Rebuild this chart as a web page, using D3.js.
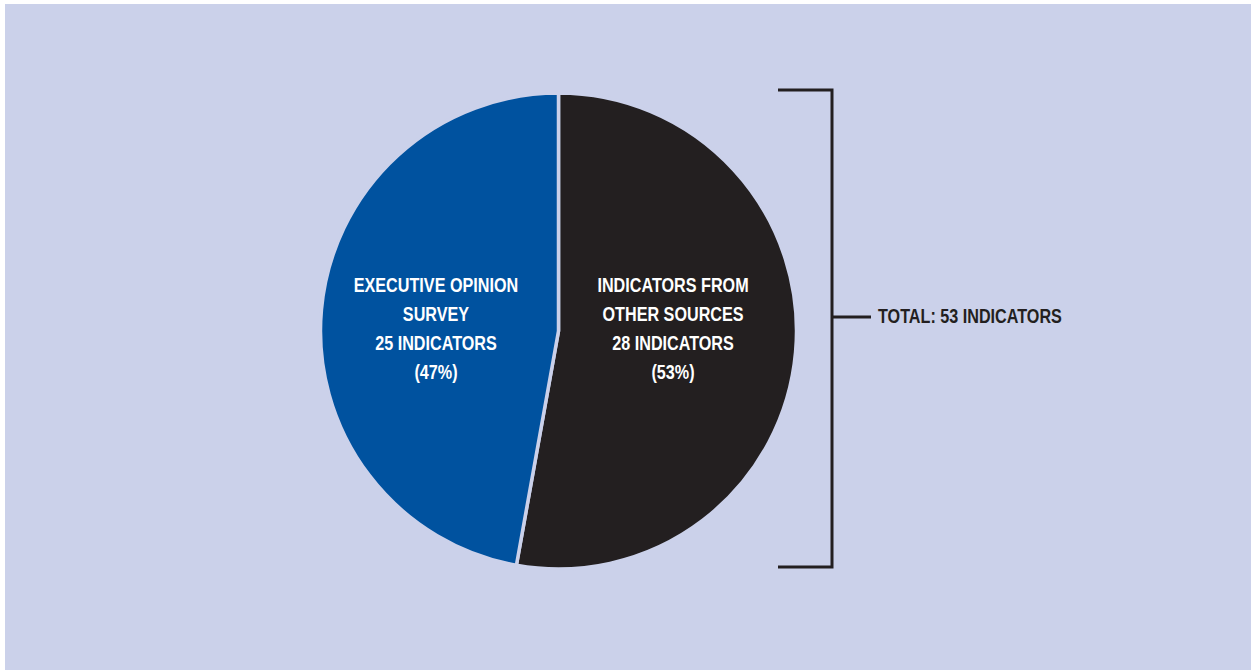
<!DOCTYPE html>
<html>
<head>
<meta charset="utf-8">
<script src="https://cdn.jsdelivr.net/npm/d3@7"></script>
<style>
  html, body { margin: 0; padding: 0; background: #ffffff; }
  svg { display: block; }
  text { font-family: "Liberation Sans Narrow", "Arial Narrow", "Liberation Sans", sans-serif; font-weight: bold; }
</style>
</head>
<body>
<svg id="chart" width="1251" height="670"></svg>
<script>
// Indicator sources
const categories = ["INDICATORS FROM OTHER SOURCES", "EXECUTIVE OPINION SURVEY"];
const counts = [28, 25];
const shares = ["(53%)", "(47%)"];
const labelLines = [
  ["INDICATORS FROM", "OTHER SOURCES", "28 INDICATORS", "(53%)"],
  ["EXECUTIVE OPINION", "SURVEY", "25 INDICATORS", "(47%)"]
];
const totalLabel = "TOTAL: 53 INDICATORS";
const colors = ["#231f20", "#00529f"];

const W = 1251, H = 670;
const bg = "#cbd1ea";
const condense = 0.77; // horizontal squeeze to get a condensed face
const svg = d3.select("#chart");

// squeeze a text element horizontally, keeping its anchor
function condensed(sel) {
  sel.each(function() {
    const len = this.getComputedTextLength();
    d3.select(this).attr("textLength", len * condense).attr("lengthAdjust", "spacingAndGlyphs");
  });
}

// panel background with thin white margin on the top and left edges
svg.append("rect").attr("x", 5).attr("y", 4).attr("width", W - 5).attr("height", H - 4).attr("fill", bg);

const cx = 558.5, cy = 331, r = 238;
const g = svg.append("g").attr("transform", `translate(${cx},${cy})`);

const pie = d3.pie().sort(null).value(d => d.count);
const data = categories.map((c, i) => ({ name: c, count: counts[i], lines: labelLines[i], color: colors[i] }));
const arcs = pie(data);
const arc = d3.arc().innerRadius(0).outerRadius(r);
const labelArc = d3.arc().innerRadius(0).outerRadius(r);

g.selectAll("path.slice")
  .data(arcs)
  .join("path")
  .attr("class", "slice")
  .attr("d", arc)
  .attr("fill", d => d.data.color)
  .attr("stroke", bg)
  .attr("stroke-width", 3.5)
  .attr("stroke-linejoin", "round");

// slice labels, stacked lines centred on each slice
const lineOffsets = [-39, -10, 19, 48];
const labels = g.selectAll("g.label")
  .data(arcs)
  .join("g")
  .attr("class", "label")
  .attr("transform", d => {
    const [x] = labelArc.centroid(d);
    return `translate(${x - 4},0)`;
  });

labels.each(function(d) {
  const sel = d3.select(this);
  d.data.lines.forEach((t, k) => {
    sel.append("text")
      .attr("x", 0)
      .attr("y", lineOffsets[k])
      .attr("text-anchor", "middle")
      .attr("fill", "#ffffff")
      .attr("font-size", 21)
      .text(t)
      .call(condensed);
  });
});

// bracket spanning the whole pie with total
const bx = 832, bracketTop = cy - r - 3, bracketBottom = cy + r - 2, tickY = 317;
const ink = "#231f20";
svg.append("path")
  .attr("d", `M${bx - 54},${bracketTop}H${bx}V${bracketBottom}H${bx - 54}`)
  .attr("fill", "none")
  .attr("stroke", ink)
  .attr("stroke-width", 3);
svg.append("line")
  .attr("x1", bx).attr("x2", bx + 39)
  .attr("y1", tickY).attr("y2", tickY)
  .attr("stroke", ink).attr("stroke-width", 3);
svg.append("text")
  .attr("x", bx + 46)
  .attr("y", tickY + 6)
  .attr("fill", ink)
  .attr("font-size", 21)
  .text(totalLabel)
  .call(condensed);
</script>
</body>
</html>
